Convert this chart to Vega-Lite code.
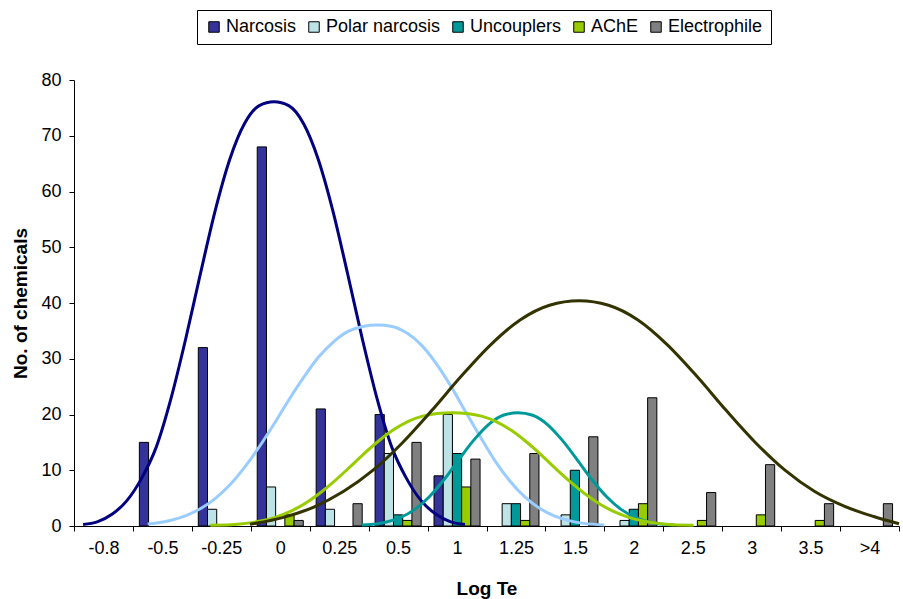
{
  "$schema": "https://vega.github.io/schema/vega-lite/v6.json",
  "autosize": "none",
  "width": 825,
  "height": 446,
  "padding": {"left": 74, "top": 80, "right": 4, "bottom": 73},
  "background": "white",
  "config": {
    "view": {"stroke": null},
    "font": "Liberation Sans",
    "axis": {
      "domainColor": "black",
      "tickColor": "black",
      "labelColor": "black",
      "titleColor": "black",
      "labelFont": "Liberation Sans",
      "titleFont": "Liberation Sans",
      "labelFontSize": 18,
      "titleFontSize": 19,
      "titleFontWeight": "bold",
      "tickSize": 5,
      "grid": false
    },
    "legend": {
      "labelFont": "Liberation Sans",
      "labelFontSize": 18,
      "labelColor": "black"
    }
  },
  "datasets": {
    "bars": [
      {"cat": "-0.5", "series": "Narcosis", "n": 15},
      {"cat": "-0.25", "series": "Narcosis", "n": 32},
      {"cat": "-0.25", "series": "Polar narcosis", "n": 3},
      {"cat": "0", "series": "Narcosis", "n": 68},
      {"cat": "0", "series": "Polar narcosis", "n": 7},
      {"cat": "0", "series": "AChE", "n": 2},
      {"cat": "0", "series": "Electrophile", "n": 1},
      {"cat": "0.25", "series": "Narcosis", "n": 21},
      {"cat": "0.25", "series": "Polar narcosis", "n": 3},
      {"cat": "0.25", "series": "Electrophile", "n": 4},
      {"cat": "0.5", "series": "Narcosis", "n": 20},
      {"cat": "0.5", "series": "Polar narcosis", "n": 13},
      {"cat": "0.5", "series": "Uncouplers", "n": 2},
      {"cat": "0.5", "series": "AChE", "n": 1},
      {"cat": "0.5", "series": "Electrophile", "n": 15},
      {"cat": "1", "series": "Narcosis", "n": 9},
      {"cat": "1", "series": "Polar narcosis", "n": 20},
      {"cat": "1", "series": "Uncouplers", "n": 13},
      {"cat": "1", "series": "AChE", "n": 7},
      {"cat": "1", "series": "Electrophile", "n": 12},
      {"cat": "1.25", "series": "Polar narcosis", "n": 4},
      {"cat": "1.25", "series": "Uncouplers", "n": 4},
      {"cat": "1.25", "series": "AChE", "n": 1},
      {"cat": "1.25", "series": "Electrophile", "n": 13},
      {"cat": "1.5", "series": "Polar narcosis", "n": 2},
      {"cat": "1.5", "series": "Uncouplers", "n": 10},
      {"cat": "1.5", "series": "Electrophile", "n": 16},
      {"cat": "2", "series": "Polar narcosis", "n": 1},
      {"cat": "2", "series": "Uncouplers", "n": 3},
      {"cat": "2", "series": "AChE", "n": 4},
      {"cat": "2", "series": "Electrophile", "n": 23},
      {"cat": "2.5", "series": "AChE", "n": 1},
      {"cat": "2.5", "series": "Electrophile", "n": 6},
      {"cat": "3", "series": "AChE", "n": 2},
      {"cat": "3", "series": "Electrophile", "n": 11},
      {"cat": "3.5", "series": "AChE", "n": 1},
      {"cat": "3.5", "series": "Electrophile", "n": 4},
      {"cat": ">4", "series": "Electrophile", "n": 4}
    ],
    "curves": [
      {"curve": "Narcosis", "pos": 0.154, "n": 0.28},
      {"curve": "Narcosis", "pos": 0.394, "n": 0.74},
      {"curve": "Narcosis", "pos": 0.644, "n": 2.1},
      {"curve": "Narcosis", "pos": 0.894, "n": 4.5},
      {"curve": "Narcosis", "pos": 1.144, "n": 8.5},
      {"curve": "Narcosis", "pos": 1.394, "n": 14.1},
      {"curve": "Narcosis", "pos": 1.644, "n": 22.8},
      {"curve": "Narcosis", "pos": 1.894, "n": 33.5},
      {"curve": "Narcosis", "pos": 2.144, "n": 45.2},
      {"curve": "Narcosis", "pos": 2.394, "n": 56.5},
      {"curve": "Narcosis", "pos": 2.644, "n": 65.8},
      {"curve": "Narcosis", "pos": 2.894, "n": 72.2},
      {"curve": "Narcosis", "pos": 3.144, "n": 75.4},
      {"curve": "Narcosis", "pos": 3.394, "n": 76.1},
      {"curve": "Narcosis", "pos": 3.644, "n": 75.4},
      {"curve": "Narcosis", "pos": 3.894, "n": 72.2},
      {"curve": "Narcosis", "pos": 4.144, "n": 65.8},
      {"curve": "Narcosis", "pos": 4.394, "n": 56.5},
      {"curve": "Narcosis", "pos": 4.644, "n": 45.2},
      {"curve": "Narcosis", "pos": 4.894, "n": 33.5},
      {"curve": "Narcosis", "pos": 5.144, "n": 22.8},
      {"curve": "Narcosis", "pos": 5.394, "n": 14.1},
      {"curve": "Narcosis", "pos": 5.644, "n": 8.5},
      {"curve": "Narcosis", "pos": 5.894, "n": 4.5},
      {"curve": "Narcosis", "pos": 6.144, "n": 2.1},
      {"curve": "Narcosis", "pos": 6.394, "n": 0.74},
      {"curve": "Narcosis", "pos": 6.634, "n": 0.28},
      {"curve": "Polar narcosis", "pos": 1.25, "n": 0.37},
      {"curve": "Polar narcosis", "pos": 1.4, "n": 0.55},
      {"curve": "Polar narcosis", "pos": 1.65, "n": 1.04},
      {"curve": "Polar narcosis", "pos": 1.9, "n": 1.87},
      {"curve": "Polar narcosis", "pos": 2.15, "n": 3.13},
      {"curve": "Polar narcosis", "pos": 2.4, "n": 4.96},
      {"curve": "Polar narcosis", "pos": 2.65, "n": 7.44},
      {"curve": "Polar narcosis", "pos": 2.9, "n": 10.6},
      {"curve": "Polar narcosis", "pos": 3.15, "n": 14.3},
      {"curve": "Polar narcosis", "pos": 3.4, "n": 18.4},
      {"curve": "Polar narcosis", "pos": 3.65, "n": 22.7},
      {"curve": "Polar narcosis", "pos": 3.9, "n": 26.7},
      {"curve": "Polar narcosis", "pos": 4.15, "n": 30.3},
      {"curve": "Polar narcosis", "pos": 4.4, "n": 33.0},
      {"curve": "Polar narcosis", "pos": 4.65, "n": 34.9},
      {"curve": "Polar narcosis", "pos": 4.9, "n": 35.8},
      {"curve": "Polar narcosis", "pos": 5.15, "n": 36.05},
      {"curve": "Polar narcosis", "pos": 5.4, "n": 35.8},
      {"curve": "Polar narcosis", "pos": 5.65, "n": 34.6},
      {"curve": "Polar narcosis", "pos": 5.9, "n": 32.4},
      {"curve": "Polar narcosis", "pos": 6.15, "n": 29.1},
      {"curve": "Polar narcosis", "pos": 6.4, "n": 25.0},
      {"curve": "Polar narcosis", "pos": 6.65, "n": 20.4},
      {"curve": "Polar narcosis", "pos": 6.9, "n": 15.9},
      {"curve": "Polar narcosis", "pos": 7.15, "n": 11.6},
      {"curve": "Polar narcosis", "pos": 7.4, "n": 8.04},
      {"curve": "Polar narcosis", "pos": 7.65, "n": 5.22},
      {"curve": "Polar narcosis", "pos": 7.9, "n": 3.18},
      {"curve": "Polar narcosis", "pos": 8.15, "n": 1.81},
      {"curve": "Polar narcosis", "pos": 8.4, "n": 0.96},
      {"curve": "Polar narcosis", "pos": 8.65, "n": 0.47},
      {"curve": "Polar narcosis", "pos": 9.0, "n": 0.2},
      {"curve": "Uncouplers", "pos": 4.884, "n": 0.2},
      {"curve": "Uncouplers", "pos": 5.034, "n": 0.26},
      {"curve": "Uncouplers", "pos": 5.284, "n": 0.67},
      {"curve": "Uncouplers", "pos": 5.534, "n": 1.5},
      {"curve": "Uncouplers", "pos": 5.784, "n": 2.98},
      {"curve": "Uncouplers", "pos": 6.034, "n": 5.29},
      {"curve": "Uncouplers", "pos": 6.284, "n": 8.38},
      {"curve": "Uncouplers", "pos": 6.534, "n": 11.96},
      {"curve": "Uncouplers", "pos": 6.784, "n": 15.4},
      {"curve": "Uncouplers", "pos": 7.034, "n": 18.2},
      {"curve": "Uncouplers", "pos": 7.284, "n": 19.86},
      {"curve": "Uncouplers", "pos": 7.534, "n": 20.3},
      {"curve": "Uncouplers", "pos": 7.784, "n": 19.86},
      {"curve": "Uncouplers", "pos": 8.034, "n": 18.2},
      {"curve": "Uncouplers", "pos": 8.284, "n": 15.4},
      {"curve": "Uncouplers", "pos": 8.534, "n": 11.96},
      {"curve": "Uncouplers", "pos": 8.784, "n": 8.38},
      {"curve": "Uncouplers", "pos": 9.034, "n": 5.29},
      {"curve": "Uncouplers", "pos": 9.284, "n": 2.98},
      {"curve": "Uncouplers", "pos": 9.534, "n": 1.5},
      {"curve": "Uncouplers", "pos": 9.784, "n": 0.67},
      {"curve": "Uncouplers", "pos": 10.034, "n": 0.26},
      {"curve": "Uncouplers", "pos": 10.184, "n": 0.2},
      {"curve": "AChE", "pos": 2.314, "n": 0.15},
      {"curve": "AChE", "pos": 2.664, "n": 0.23},
      {"curve": "AChE", "pos": 2.914, "n": 0.47},
      {"curve": "AChE", "pos": 3.164, "n": 0.88},
      {"curve": "AChE", "pos": 3.414, "n": 1.56},
      {"curve": "AChE", "pos": 3.664, "n": 2.58},
      {"curve": "AChE", "pos": 3.914, "n": 3.99},
      {"curve": "AChE", "pos": 4.164, "n": 5.82},
      {"curve": "AChE", "pos": 4.414, "n": 8.0},
      {"curve": "AChE", "pos": 4.664, "n": 10.4},
      {"curve": "AChE", "pos": 4.914, "n": 12.9},
      {"curve": "AChE", "pos": 5.164, "n": 15.2},
      {"curve": "AChE", "pos": 5.414, "n": 17.2},
      {"curve": "AChE", "pos": 5.664, "n": 18.74},
      {"curve": "AChE", "pos": 5.914, "n": 19.7},
      {"curve": "AChE", "pos": 6.164, "n": 20.2},
      {"curve": "AChE", "pos": 6.414, "n": 20.3},
      {"curve": "AChE", "pos": 6.664, "n": 20.2},
      {"curve": "AChE", "pos": 6.914, "n": 19.7},
      {"curve": "AChE", "pos": 7.164, "n": 18.74},
      {"curve": "AChE", "pos": 7.414, "n": 17.2},
      {"curve": "AChE", "pos": 7.664, "n": 15.2},
      {"curve": "AChE", "pos": 7.914, "n": 12.9},
      {"curve": "AChE", "pos": 8.164, "n": 10.4},
      {"curve": "AChE", "pos": 8.414, "n": 8.0},
      {"curve": "AChE", "pos": 8.664, "n": 5.82},
      {"curve": "AChE", "pos": 8.914, "n": 3.99},
      {"curve": "AChE", "pos": 9.164, "n": 2.58},
      {"curve": "AChE", "pos": 9.414, "n": 1.56},
      {"curve": "AChE", "pos": 9.664, "n": 0.88},
      {"curve": "AChE", "pos": 9.914, "n": 0.47},
      {"curve": "AChE", "pos": 10.164, "n": 0.23},
      {"curve": "AChE", "pos": 10.514, "n": 0.15},
      {"curve": "Electrophile", "pos": 2.987, "n": 0.3},
      {"curve": "Electrophile", "pos": 3.57, "n": 1.6},
      {"curve": "Electrophile", "pos": 4.07, "n": 3.4},
      {"curve": "Electrophile", "pos": 4.57, "n": 6.18},
      {"curve": "Electrophile", "pos": 5.07, "n": 9.97},
      {"curve": "Electrophile", "pos": 5.57, "n": 14.9},
      {"curve": "Electrophile", "pos": 6.07, "n": 20.7},
      {"curve": "Electrophile", "pos": 6.57, "n": 26.85},
      {"curve": "Electrophile", "pos": 7.07, "n": 32.5},
      {"curve": "Electrophile", "pos": 7.57, "n": 36.96},
      {"curve": "Electrophile", "pos": 8.07, "n": 39.6},
      {"curve": "Electrophile", "pos": 8.57, "n": 40.4},
      {"curve": "Electrophile", "pos": 9.07, "n": 39.6},
      {"curve": "Electrophile", "pos": 9.57, "n": 36.96},
      {"curve": "Electrophile", "pos": 10.07, "n": 32.5},
      {"curve": "Electrophile", "pos": 10.57, "n": 26.85},
      {"curve": "Electrophile", "pos": 11.07, "n": 20.7},
      {"curve": "Electrophile", "pos": 11.57, "n": 14.9},
      {"curve": "Electrophile", "pos": 12.07, "n": 9.97},
      {"curve": "Electrophile", "pos": 12.57, "n": 6.18},
      {"curve": "Electrophile", "pos": 13.07, "n": 3.55},
      {"curve": "Electrophile", "pos": 13.57, "n": 1.7},
      {"curve": "Electrophile", "pos": 14.0, "n": 0.4}
    ]
  },
  "layer": [
    {
      "data": {"name": "bars"},
      "mark": {"type": "bar", "stroke": "black", "strokeWidth": 1},
      "encoding": {
        "x": {
          "field": "cat",
          "type": "nominal",
          "scale": {
            "domain": ["-0.8", "-0.5", "-0.25", "0", "0.25", "0.5", "1", "1.25", "1.5", "2", "2.5", "3", "3.5", ">4"],
            "paddingInner": 0,
            "paddingOuter": 0
          },
          "axis": {
            "title": "Log Te",
            "labelAngle": 0,
            "tickBand": "extent",
            "labelPadding": 8,
            "titlePadding": 22
          }
        },
        "xOffset": {
          "field": "series",
          "type": "nominal",
          "scale": {
            "domain": ["Narcosis", "Polar narcosis", "Uncouplers", "AChE", "Electrophile"],
            "paddingInner": 0,
            "paddingOuter": 0.7
          }
        },
        "y": {
          "field": "n",
          "type": "quantitative",
          "scale": {"domain": [0, 80], "nice": false},
          "axis": {
            "title": "No. of chemicals",
            "values": [0, 10, 20, 30, 40, 50, 60, 70, 80],
            "labelPadding": 8,
            "titlePadding": 10
          }
        },
        "color": {
          "field": "series",
          "type": "nominal",
          "scale": {
            "domain": ["Narcosis", "Polar narcosis", "Uncouplers", "AChE", "Electrophile"],
            "range": ["#333399", "#BDE3E6", "#009999", "#99CC00", "#808080"]
          },
          "legend": {
            "title": null,
            "orient": "none",
            "legendX": 123,
            "legendY": -70,
            "direction": "horizontal",
            "columns": 5,
            "symbolType": "square",
            "symbolSize": 110,
            "symbolStrokeColor": "black",
            "symbolStrokeWidth": 1,
            "symbolOpacity": 1,
            "labelOffset": 3,
            "columnPadding": 8,
            "padding": 8,
            "strokeColor": "black",
            "fillColor": "white"
          }
        }
      }
    },
    {
      "data": {"name": "curves"},
      "mark": {"type": "line", "strokeWidth": 3, "interpolate": "monotone"},
      "encoding": {
        "x": {
          "field": "pos",
          "type": "quantitative",
          "scale": {"domain": [0, 14], "nice": false, "zero": false},
          "axis": null
        },
        "y": {"field": "n", "type": "quantitative"},
        "color": {
          "field": "curve",
          "type": "nominal",
          "scale": {
            "domain": ["Narcosis", "Polar narcosis", "Uncouplers", "AChE", "Electrophile"],
            "range": ["#000080", "#99CCFF", "#009999", "#99CC00", "#333300"]
          },
          "legend": null
        }
      }
    }
  ],
  "resolve": {"scale": {"x": "independent", "color": "independent"}}
}
